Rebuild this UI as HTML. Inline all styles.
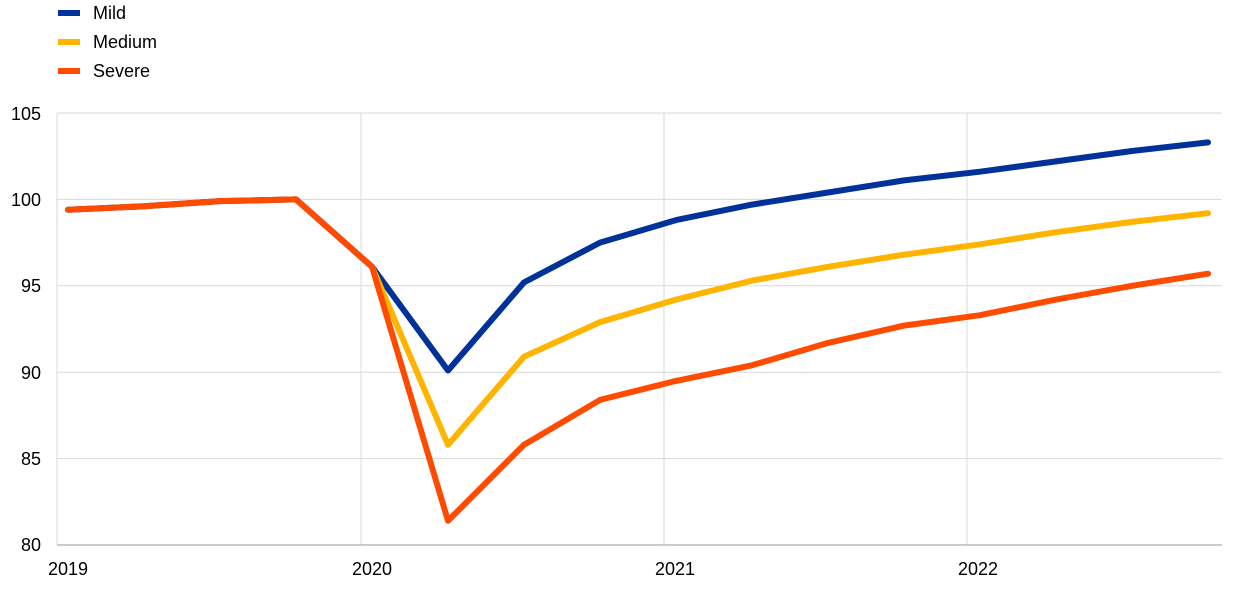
<!DOCTYPE html>
<html><head><style>
body{margin:0;background:#fff;}
svg text{font-family:"Liberation Sans",Arial,sans-serif;font-size:18px;fill:#000;}
</style></head><body>
<svg width="1240" height="589" xmlns="http://www.w3.org/2000/svg">
<g stroke="#d9d9d9" stroke-width="1">
<line x1="57" y1="113" x2="1222" y2="113"/>
<line x1="57" y1="199.4" x2="1222" y2="199.4"/>
<line x1="57" y1="285.8" x2="1222" y2="285.8"/>
<line x1="57" y1="372.2" x2="1222" y2="372.2"/>
<line x1="57" y1="458.6" x2="1222" y2="458.6"/>
<line x1="57" y1="113" x2="57" y2="545"/>
<line x1="361" y1="113" x2="361" y2="545"/>
<line x1="664" y1="113" x2="664" y2="545"/>
<line x1="967" y1="113" x2="967" y2="545"/>
</g>
<line x1="57" y1="545" x2="1222" y2="545" stroke="#999" stroke-width="1"/>
<g text-anchor="end">
<text x="41" y="120">105</text>
<text x="41" y="206">100</text>
<text x="41" y="292">95</text>
<text x="41" y="379">90</text>
<text x="41" y="465">85</text>
<text x="41" y="551">80</text>
</g>
<text x="48" y="575">2019</text>
<text x="352" y="575">2020</text>
<text x="655" y="575">2021</text>
<text x="958" y="575">2022</text>
<g fill="none" stroke-width="6" stroke-linejoin="round" stroke-linecap="round">
<polyline stroke="#003299" points="68,209.7 144,206.3 220,201.1 296,199.4 372,266.8 448,370.5 524,282.4 600,242.6 676,220.1 752,204.6 828,192.5 904,180.4 980,171.7 1056,161.4 1132,151.0 1208,142.4"/>
<polyline stroke="#FFB400" points="372,266.8 448,444.8 524,356.7 600,322.1 676,299.6 752,280.6 828,266.8 904,254.7 980,244.3 1056,232.2 1132,221.9 1208,213.2"/>
<polyline stroke="#FF4B00" points="68,209.7 144,206.3 220,201.1 296,199.4 372,266.8 448,520.8 524,444.8 600,399.9 676,380.9 752,365.3 828,342.9 904,325.6 980,315.2 1056,299.6 1132,285.8 1208,273.7"/>
</g>
<g stroke-width="6">
<line x1="58" y1="13" x2="80" y2="13" stroke="#003299"/>
<line x1="58" y1="42" x2="80" y2="42" stroke="#FFB400"/>
<line x1="58" y1="71" x2="80" y2="71" stroke="#FF4B00"/>
</g>
<text x="93" y="19">Mild</text>
<text x="93" y="48">Medium</text>
<text x="93" y="77">Severe</text>
</svg>
</body></html>
